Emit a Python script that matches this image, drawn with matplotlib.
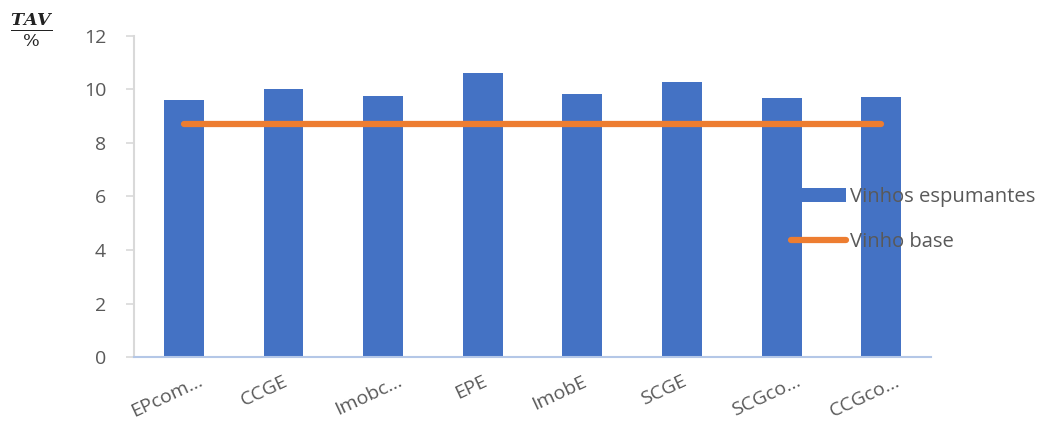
import numpy as np
import matplotlib.pyplot as plt
from matplotlib.transforms import ScaledTranslation

plt.rcParams['font.family'] = ['Open Sans', 'DejaVu Sans']

# alcohol content of each sparkling wine and of the base wine
amostras = ['EPcom…', 'CCGE', 'Imobc…', 'EPE', 'ImobE', 'SCGE', 'SCGco…', 'CCGco…']
tav_espumantes = [9.61, 10.02, 9.75, 10.62, 9.83, 10.28, 9.68, 9.72]
tav_base = [8.71] * len(amostras)

azul = '#4472c4'
laranja = '#ed7d31'
cinza = '#595959'

fig = plt.figure(figsize=(10.42, 4.23), dpi=100)
ax = fig.add_axes([0.1286, 0.156, 0.7649, 0.759])

x = np.arange(len(amostras))
barras = ax.bar(x, tav_espumantes, width=0.4, color=azul, label='Vinhos espumantes', zorder=2)
linha, = ax.plot(x, tav_base, color=laranja, lw=4.5, solid_capstyle='round', label='Vinho base', zorder=3)

ax.set_xlim(-0.5, len(amostras) - 0.5)
ax.set_ylim(0, 12)
ax.set_yticks(range(0, 13, 2))
ax.set_xticks(x)
ax.set_xticklabels(amostras, rotation=25, ha='right', va='top', rotation_mode='anchor',
                   fontsize=14, color=cinza)
ax.tick_params(axis='x', length=0, pad=11)
ax.tick_params(axis='y', labelsize=14, labelcolor=cinza, color='#d9d9d9', length=6, width=1.2, pad=14)

# truncated names keep the ellipsis hanging past the tick
for lbl in ax.get_xticklabels():
    dx = 0.14 if lbl.get_text().endswith('…') else 0.0
    lbl.set_transform(lbl.get_transform() + ScaledTranslation(dx, 0, fig.dpi_scale_trans))

for s in ['top', 'right']:
    ax.spines[s].set_visible(False)
ax.spines['left'].set_color('#d9d9d9')
ax.spines['left'].set_linewidth(1.5)
ax.spines['bottom'].set_color('#b4c7e7')
ax.spines['bottom'].set_linewidth(1.5)

fig.text(0.031, 0.928, r'$\frac{\mathbfit{TAV}}{\%}$', fontsize=18, ha='center', va='center',
         math_fontfamily='dejavuserif', color='#222222')

fig.legend([barras, linha], ['Vinhos espumantes', 'Vinho base'],
           loc='upper left', bbox_to_anchor=(0.742, 0.600), frameon=False, fontsize=14.6,
           labelcolor=cinza, handlelength=2.7, handletextpad=0.2, labelspacing=1.2)

fig.savefig('out.png', dpi=100)
